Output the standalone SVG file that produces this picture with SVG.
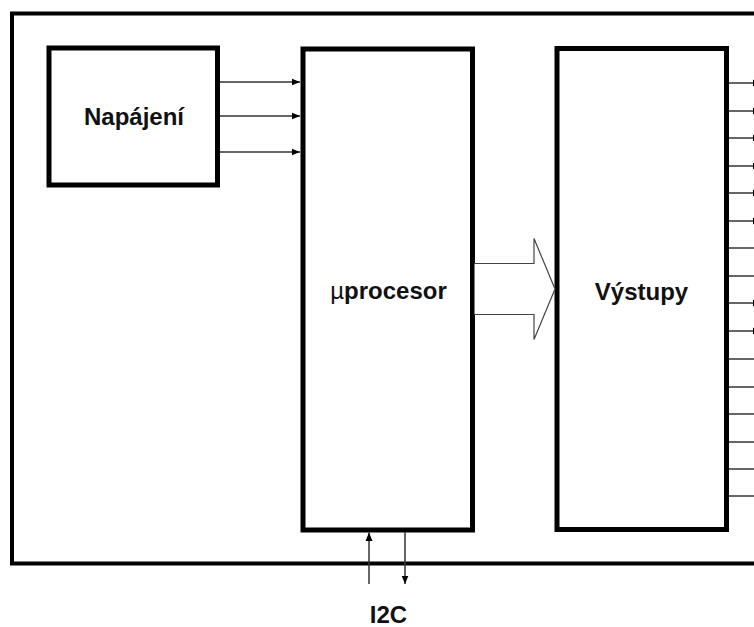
<svg xmlns="http://www.w3.org/2000/svg" width="754" height="627" viewBox="0 0 754 627">
<style>
.box{fill:#fff;stroke:#000;stroke-width:5}
.frame{fill:none;stroke:#000;stroke-width:4}
.lbl{font-family:"Liberation Sans",Arial,sans-serif;font-weight:bold;font-size:24px;fill:#111;text-anchor:middle}
.wire{stroke:#333;stroke-width:1.5;fill:none}
.big{fill:#fff;stroke:#444;stroke-width:1.2}
</style>
<defs>
<marker id="ah" markerUnits="userSpaceOnUse" markerWidth="9" markerHeight="8" refX="8.5" refY="4" orient="auto">
<path d="M0,0.5 L8.5,4 L0,7.5 Z" fill="#000"/>
</marker>
</defs>
<rect width="754" height="627" fill="#fff"/>
<rect id="frame" class="frame" x="12" y="13.5" width="770" height="550"/>
<g id="napajeni">
<rect class="box" x="49" y="48" width="168.5" height="137"/>
<text class="lbl" x="134" y="125">Napájení</text>
</g>
<g id="uprocesor">
<rect class="box" x="303" y="49" width="169.5" height="481"/>
<text class="lbl" x="388.5" y="299"><tspan font-weight="normal">µ</tspan>procesor</text>
</g>
<g id="vystupy">
<rect class="box" x="557" y="48.5" width="169.5" height="481"/>
<text class="lbl" x="641.5" y="300">Výstupy</text>
</g>
<g id="i2c">
<text class="lbl" x="388.5" y="623">I2C</text>
</g>
<g id="connectors">
<line class="wire" x1="220" y1="82" x2="300" y2="82" marker-end="url(#ah)"/>
<line class="wire" x1="220" y1="116" x2="300" y2="116" marker-end="url(#ah)"/>
<line class="wire" x1="220" y1="152" x2="300" y2="152" marker-end="url(#ah)"/>
<path class="big" d="M474.5,263.5 H534 V238.5 L555,289 L534,339.5 V314.5 H474.5"/>
<line class="wire" x1="369" y1="584" x2="369" y2="532.5" marker-end="url(#ah)"/>
<line class="wire" x1="405" y1="532" x2="405" y2="584" marker-end="url(#ah)"/>
<line class="wire" x1="729" y1="83" x2="761" y2="83" marker-end="url(#ah)"/>
<line class="wire" x1="729" y1="111" x2="761" y2="111" marker-end="url(#ah)"/>
<line class="wire" x1="729" y1="138" x2="761" y2="138" marker-end="url(#ah)"/>
<line class="wire" x1="729" y1="166" x2="761" y2="166" marker-end="url(#ah)"/>
<line class="wire" x1="729" y1="193" x2="761" y2="193" marker-end="url(#ah)"/>
<line class="wire" x1="729" y1="221" x2="761" y2="221" marker-end="url(#ah)"/>
<line class="wire" x1="729" y1="248" x2="754" y2="248"/>
<line class="wire" x1="729" y1="276" x2="754" y2="276"/>
<line class="wire" x1="729" y1="303" x2="761" y2="303" marker-end="url(#ah)"/>
<line class="wire" x1="729" y1="331" x2="761" y2="331" marker-end="url(#ah)"/>
<line class="wire" x1="729" y1="359" x2="754" y2="359"/>
<line class="wire" x1="729" y1="387" x2="754" y2="387"/>
<line class="wire" x1="729" y1="414" x2="754" y2="414"/>
<line class="wire" x1="729" y1="442" x2="754" y2="442"/>
<line class="wire" x1="729" y1="469" x2="754" y2="469"/>
<line class="wire" x1="729" y1="496" x2="754" y2="496"/>
</g>
</svg>
